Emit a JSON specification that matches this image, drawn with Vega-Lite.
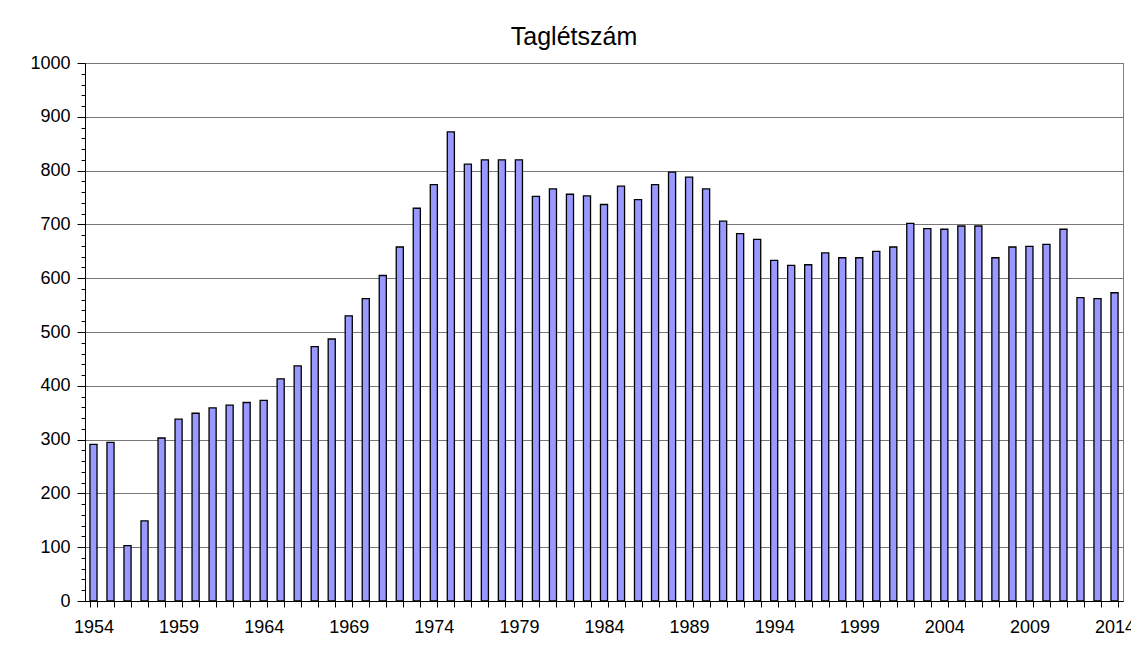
{
  "$schema": "https://vega.github.io/schema/vega-lite/v6.json",
  "width": 1038,
  "height": 538,
  "autosize": {"type": "none"},
  "padding": {"left": 85, "top": 63, "right": 8, "bottom": 54},
  "background": "white",
  "title": {
    "text": "Taglétszám",
    "font": "Liberation Sans",
    "fontSize": 25,
    "fontWeight": "normal",
    "color": "#000000",
    "anchor": "middle",
    "dx": -30,
    "dy": 25,
    "offset": 9,
    "baseline": "alphabetic"
  },
  "config": {
    "view": {"stroke": "#808080", "strokeWidth": 1},
    "font": "Liberation Sans"
  },
  "data": {
    "values": [
      {"year": 1954, "value": 291},
      {"year": 1955, "value": 295},
      {"year": 1956, "value": 103},
      {"year": 1957, "value": 149},
      {"year": 1958, "value": 303},
      {"year": 1959, "value": 338},
      {"year": 1960, "value": 349},
      {"year": 1961, "value": 359},
      {"year": 1962, "value": 364},
      {"year": 1963, "value": 369},
      {"year": 1964, "value": 373},
      {"year": 1965, "value": 413},
      {"year": 1966, "value": 437},
      {"year": 1967, "value": 473},
      {"year": 1968, "value": 487},
      {"year": 1969, "value": 530},
      {"year": 1970, "value": 562},
      {"year": 1971, "value": 605},
      {"year": 1972, "value": 658},
      {"year": 1973, "value": 730},
      {"year": 1974, "value": 774},
      {"year": 1975, "value": 872},
      {"year": 1976, "value": 812},
      {"year": 1977, "value": 820},
      {"year": 1978, "value": 820},
      {"year": 1979, "value": 820},
      {"year": 1980, "value": 752},
      {"year": 1981, "value": 766},
      {"year": 1982, "value": 756},
      {"year": 1983, "value": 753},
      {"year": 1984, "value": 737},
      {"year": 1985, "value": 771},
      {"year": 1986, "value": 746},
      {"year": 1987, "value": 774},
      {"year": 1988, "value": 797},
      {"year": 1989, "value": 788},
      {"year": 1990, "value": 766},
      {"year": 1991, "value": 706},
      {"year": 1992, "value": 683},
      {"year": 1993, "value": 672},
      {"year": 1994, "value": 633},
      {"year": 1995, "value": 624},
      {"year": 1996, "value": 625},
      {"year": 1997, "value": 647},
      {"year": 1998, "value": 638},
      {"year": 1999, "value": 638},
      {"year": 2000, "value": 650},
      {"year": 2001, "value": 658},
      {"year": 2002, "value": 702},
      {"year": 2003, "value": 692},
      {"year": 2004, "value": 691},
      {"year": 2005, "value": 697},
      {"year": 2006, "value": 697},
      {"year": 2007, "value": 638},
      {"year": 2008, "value": 658},
      {"year": 2009, "value": 659},
      {"year": 2010, "value": 663},
      {"year": 2011, "value": 691},
      {"year": 2012, "value": 564},
      {"year": 2013, "value": 562},
      {"year": 2014, "value": 573}
    ]
  },
  "mark": {"type": "bar", "fill": "#9999FF", "stroke": "#000000", "strokeWidth": 1.3},
  "encoding": {
    "x": {
      "field": "year",
      "type": "ordinal",
      "scale": {"paddingInner": 0.583, "paddingOuter": 0.29},
      "axis": {
        "title": null,
        "labelAngle": 0,
        "labelExpr": "(datum.value - 1954) % 5 === 0 ? datum.label : ''",
        "labelOverlap": false,
        "tickBand": "extent",
        "tickSize": 6,
        "tickColor": "#000000",
        "domainColor": "#000000",
        "labelFont": "Liberation Sans",
        "labelFontSize": 18,
        "labelColor": "#000000",
        "labelPadding": 11,
        "grid": false
      }
    },
    "y": {
      "field": "value",
      "type": "quantitative",
      "scale": {"domain": [0, 1000], "nice": false},
      "axis": {
        "title": null,
        "format": "d",
        "values": [0, 20, 40, 60, 80, 100, 120, 140, 160, 180, 200, 220, 240, 260, 280, 300, 320, 340, 360, 380, 400, 420, 440, 460, 480, 500, 520, 540, 560, 580, 600, 620, 640, 660, 680, 700, 720, 740, 760, 780, 800, 820, 840, 860, 880, 900, 920, 940, 960, 980, 1000],
        "labelExpr": "datum.value % 100 === 0 ? datum.label : ''",
        "labelOverlap": false,
        "tickSize": {"condition": {"test": "datum.value % 100 === 0", "value": 8}, "value": 4},
        "tickColor": "#000000",
        "domainColor": "#000000",
        "grid": true,
        "gridColor": "#777777",
        "gridOpacity": {"condition": {"test": "datum.value % 100 === 0", "value": 1}, "value": 0},
        "labelFont": "Liberation Sans",
        "labelFontSize": 18,
        "labelColor": "#000000",
        "labelPadding": 7
      }
    }
  }
}
